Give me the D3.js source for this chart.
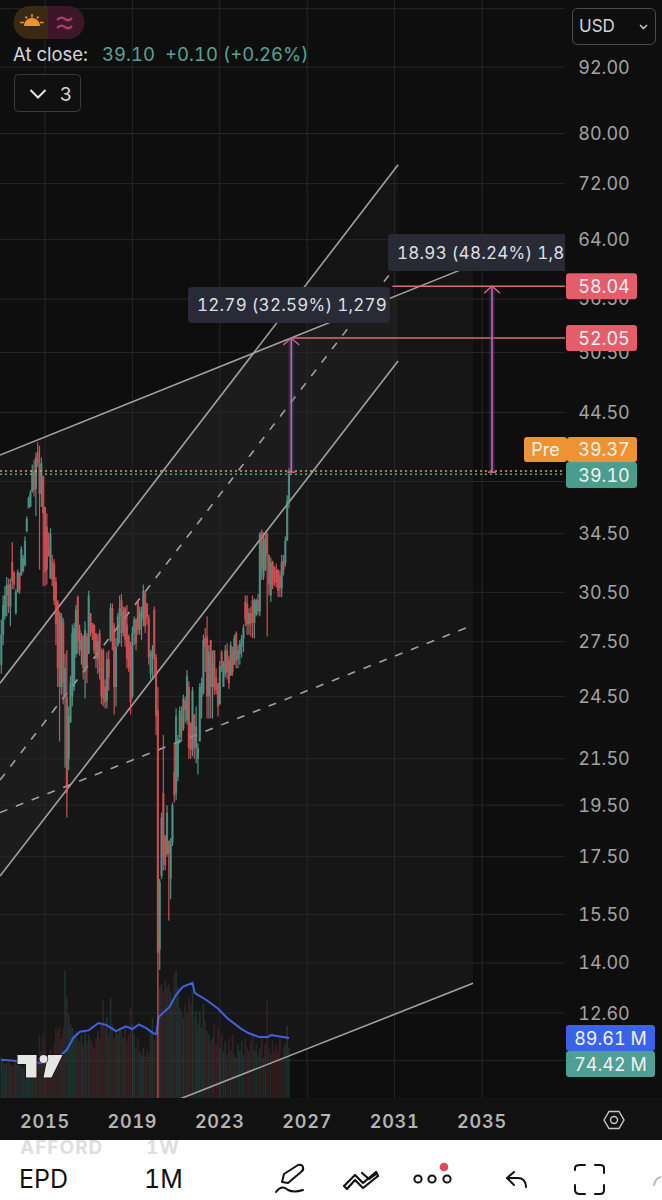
<!DOCTYPE html>
<html>
<head>
<meta charset="utf-8">
<script src="https://cdn.jsdelivr.net/npm/d3@7"></script>
<style>
html,body{margin:0;padding:0;background:#fff}
svg{display:block}
text{font-family:Inter,"Noto Sans",sans-serif;font-feature-settings:"tnum" 1;font-variant-numeric:tabular-nums}
</style>
</head>
<body>
<svg id="c" width="662" height="1200"></svg>
<script>
const opens=[26.2,27.9,29.0,30.3,31.0,29.6,32.5,31.8,29.2,30.5,31.8,31.6,31.9,32.3,34.7,36.4,36.5,37.7,39.4,37.9,
41.0,40.0,37.5,38.9,36.5,35.0,33.5,31.4,32.5,32.4,31.2,29.9,29.2,25.0,28.7,24.5,24.5,21.5,23.2,24.5,
25.0,26.8,30.2,28.2,27.0,27.8,25.8,27.8,26.8,29.2,28.6,28.5,28.0,26.5,28.0,26.0,27.0,25.0,24.3,26.5,
27.6,29.5,28.4,25.0,27.3,29.0,30.0,28.0,29.5,28.5,27.8,27.3,24.5,28.0,28.8,30.0,28.2,29.0,28.8,30.5,
29.8,28.9,25.7,26.7,29.4,26.6,23.8,14.4,16.8,20.0,18.3,17.6,18.1,16.7,18.0,20.9,20.0,20.7,22.5,23.5,
22.9,24.3,23.3,25.0,23.2,21.9,23.6,22.0,21.5,22.3,24.5,24.7,27.7,27.8,24.5,27.6,25.0,27.0,25.5,25.2,
24.1,26.9,25.0,25.7,27.0,26.5,25.6,27.0,26.2,28.0,26.5,26.8,27.2,27.7,29.9,29.8,28.5,29.2,30.0,28.6,
29.1,30.0,29.3,34.6,31.5,32.0,34.5,33.0,30.3,32.5,32.2,32.0,32.0,31.6,30.8,32.6,32.4,34.0,37.0];
const highs=[28.8,30.3,30.9,31.5,31.4,31.4,33.9,31.9,30.7,32.0,31.8,33.6,33.0,34.3,35.8,37.3,37.8,39.9,40.3,40.9,
41.8,41.5,40.5,39.0,36.5,36.0,34.6,34.9,33.0,32.7,31.5,30.0,29.3,29.2,28.9,26.8,27.0,24.0,25.6,28.5,
28.6,29.7,30.3,28.5,28.0,27.9,28.7,28.0,30.6,29.2,28.6,28.5,28.0,27.9,28.2,27.1,27.1,25.4,26.9,27.0,
29.8,29.8,28.6,27.7,29.2,30.3,30.4,29.6,29.6,29.7,27.9,27.5,28.4,29.0,28.9,30.0,29.6,29.6,31.0,30.6,
29.8,29.1,27.0,27.3,29.6,26.8,25.0,16.7,19.2,22.6,18.3,19.5,18.1,18.2,19.6,22.2,23.9,22.6,24.0,24.0,
24.6,24.5,25.9,25.3,23.2,25.0,23.6,24.0,22.2,25.2,25.5,27.9,28.3,29.0,27.3,27.6,27.0,27.0,26.0,25.2,
26.4,27.0,26.4,27.3,27.4,26.7,27.5,27.2,27.9,28.1,27.3,27.6,27.9,28.5,30.3,30.3,29.5,29.6,30.3,30.1,
30.1,30.4,34.6,34.8,34.6,34.5,34.6,33.0,32.8,32.6,32.2,32.4,32.0,31.9,33.0,33.0,34.3,37.4,39.6];
const lows=[25.7,27.3,28.8,29.0,29.2,28.4,30.7,30.7,29.1,30.5,30.4,31.6,31.8,32.2,34.6,36.4,36.5,37.6,37.3,35.8,
39.7,32.0,36.5,30.9,30.9,31.0,32.9,31.4,30.9,29.7,27.3,25.0,22.3,24.6,24.1,21.1,19.0,21.0,23.2,24.0,
24.8,26.6,26.8,26.7,26.2,25.4,24.4,25.2,26.8,27.8,27.6,26.8,26.0,25.7,25.4,24.1,24.0,23.9,23.9,24.8,
27.5,27.0,23.6,24.0,27.2,27.4,27.2,27.8,27.2,26.0,25.8,23.6,24.4,27.3,27.0,27.9,27.9,27.6,28.4,28.0,
28.5,26.2,25.4,25.5,25.6,22.6,10.27,13.8,16.7,17.0,17.0,17.5,15.3,16.0,17.9,19.6,19.7,20.5,22.2,22.3,
22.8,23.2,23.1,21.5,21.5,21.6,21.5,21.3,20.8,22.3,23.4,24.6,25.8,23.4,23.4,23.4,23.4,24.6,24.6,23.5,
24.1,25.8,25.0,25.5,25.4,24.9,25.6,25.6,26.2,26.0,26.0,26.2,26.6,26.9,28.4,27.9,27.9,27.8,27.7,27.7,
29.0,29.1,29.0,31.3,31.3,31.9,27.8,30.3,29.9,30.7,30.9,30.8,30.2,30.2,30.2,31.6,32.2,34.0,36.4];
const closes=[27.9,29.7,30.3,31.0,29.6,31.0,31.2,31.0,30.5,31.8,30.6,33.4,32.8,34.0,35.6,37.2,37.6,39.4,37.8,40.5,
40.0,37.5,40.0,36.0,31.8,32.0,32.9,34.5,31.3,30.0,28.5,26.0,25.0,29.0,25.2,26.0,20.0,23.5,25.2,28.0,
28.3,29.4,27.5,27.0,27.6,26.0,28.2,26.0,30.3,28.0,28.0,27.0,26.5,27.5,25.8,24.5,24.4,24.2,26.5,25.5,
29.5,27.5,25.0,27.2,29.0,29.5,28.0,29.3,27.6,26.5,26.0,24.2,28.0,28.8,27.4,28.2,29.2,29.4,30.6,28.4,
28.9,26.6,26.8,27.0,26.5,23.5,14.3,16.6,19.0,17.5,17.2,19.2,17.6,18.0,19.5,19.9,23.5,22.4,23.8,22.8,
24.4,23.8,25.6,22.0,21.9,24.8,22.0,23.0,22.0,25.0,25.2,27.6,27.2,24.5,26.9,25.0,26.3,25.0,24.8,24.0,
26.1,26.0,26.2,27.0,25.8,25.2,27.3,25.8,27.7,26.4,27.0,27.4,27.7,28.3,28.8,28.5,29.2,28.6,28.6,30.0,
30.0,29.3,34.5,32.0,34.0,34.2,33.0,31.0,32.5,31.0,31.2,31.1,30.6,30.8,32.5,32.0,34.0,37.0,39.1];
const volumes=[60,55,50,52,58,50,48,52,55,50,60,48,45,50,42,48,55,50,52,50,
60,95,70,95,70,55,60,72,65,80,105,100,106,90,105,190,150,125,110,105,
95,100,90,85,95,80,100,85,95,88,82,75,90,100,90,110,145,105,120,95,
150,110,90,100,95,105,100,90,105,85,95,135,110,95,75,90,70,65,75,62,
70,65,100,120,85,95,240,165,170,160,175,165,170,160,150,185,190,165,135,130,
120,140,125,150,140,160,120,130,110,130,105,140,115,100,95,85,90,110,80,105,
75,95,70,85,65,90,70,95,65,60,80,70,85,65,90,75,70,85,95,70,
80,65,75,90,60,80,148,75,65,85,70,80,70,90,60,75,80,108,74.42];
const maYears=[2013,2015,2015.2,2015.6,2016,2016.3,2016.6,2017,2017.45,2017.8,2018.25,2018.7,2019,2019.3,2019.65,2020,2020.1,2020.2,2020.7,2021,2021.3,2021.75,2021.85,2022.4,2022.9,2023.35,2023.95,2024.3,2024.8,2025.2,2025.35,2026.17];
const maValues=[57,52,54,60,72,90,99,101,112,109,100,107,103,110,104,96,96,121,136,154,166,172,157,146,134,119,104,97,91,91,94,89.61];
const priceTicks=[104,92,80,72,64,56.5,50.5,44.5,38.5,34.5,30.5,27.5,24.5,21.5,19.5,17.5,15.5,14,12.6,11.4];
const hiddenPriceLabels=[104,11.4];
const yearTicks=[2015,2019,2023,2027,2031,2035];

// trend drawings, as [year, price]
const channelA={upper:[[2012.94,25.2],[2031.16,74.9]],mid:[[2012.94,20.56],[2031.16,60.9]],lower:[[2012.94,16.8],[2031.16,49.6]]};
const channelB={upper:[[2012.94,40.7],[2034.59,60.7]],mid:[[2012.94,19.2],[2034.45,28.4]],lower:[[2012.94,9.06],[2034.59,13.41]]};
const measures=[
 {year:2026.27,from:39.1,to:52.05,lineFrom:2026.27,label:"12.79 (32.59%) 1,279"},
 {year:2035.46,from:39.1,to:58.04,lineFrom:2030.9,label:"18.93 (48.24%) 1,893"}];
const prePrice=39.37, lastPrice=39.10;

const GREEN="#55a594",RED="#e8585d",PANE_R=565,PANE_B=1098;
const x=d3.scaleLinear().domain([2015,2035]).range([45,482]);
const y=d3.scaleLog().domain([92,12.6]).range([67,1013]);
const v=d3.scaleLinear().domain([0,89.61]).range([PANE_B,1038]);
const cy=i=>2013+i/12;

const svg=d3.select("#c");
svg.append("rect").attr("width",662).attr("height",1140).attr("fill","#0e0e0f");
svg.append("defs").append("clipPath").attr("id","pane").append("rect").attr("width",PANE_R).attr("height",PANE_B);
const pane=svg.append("g").attr("clip-path","url(#pane)");

// channel fills
const poly=ch=>[...ch.upper,...ch.lower.slice().reverse()].map(p=>[x(p[0]),y(p[1])].join(",")).join(" ");
pane.append("polygon").attr("points",poly(channelB)).attr("fill","rgba(255,255,255,.035)");
pane.append("polygon").attr("points",poly(channelA)).attr("fill","rgba(255,255,255,.028)");

// grid
pane.selectAll(".gh").data(priceTicks).join("line").attr("x1",0).attr("x2",PANE_R)
 .attr("y1",d=>y(d)).attr("y2",d=>y(d)).attr("stroke","#272728").attr("stroke-width",1);
pane.selectAll(".gv").data(yearTicks).join("line").attr("y1",0).attr("y2",PANE_B)
 .attr("x1",d=>x(d)).attr("x2",d=>x(d)).attr("stroke","#272728").attr("stroke-width",1);

// volume
pane.selectAll(".vol").data(volumes).join("rect")
 .attr("x",(d,i)=>x(cy(i))-.8).attr("width",1.6)
 .attr("y",d=>v(d)).attr("height",d=>PANE_B-v(d))
 .attr("fill",(d,i)=>closes[i]>=opens[i]?"#2c5a52":"#6a2f33").attr("opacity",.42);

// volume MA
pane.append("path").attr("fill","none").attr("stroke","#3f63e0").attr("stroke-width",2)
 .attr("d",d3.line().x((d,i)=>x(maYears[i])).y(d=>v(d))(maValues));

// trend lines
function seg(pts,dash){pane.append("line")
 .attr("x1",x(pts[0][0])).attr("y1",y(pts[0][1])).attr("x2",x(pts[1][0])).attr("y2",y(pts[1][1]))
 .attr("stroke","#a2a2a2").attr("stroke-width",1.6).attr("stroke-dasharray",dash||null);}
[channelB,channelA].forEach(c=>{seg(c.upper);seg(c.lower);seg(c.mid,"8 9");});

// candles
const cand=pane.append("g").attr("opacity",.88);
cand.selectAll(".w").data(opens).join("rect")
 .attr("x",(d,i)=>x(cy(i))-.6).attr("width",1.2)
 .attr("y",(d,i)=>y(highs[i])).attr("height",(d,i)=>y(lows[i])-y(highs[i]))
 .attr("fill",(d,i)=>closes[i]>=d?GREEN:RED);
cand.selectAll(".b").data(opens).join("rect")
 .attr("x",(d,i)=>x(cy(i))-1.1).attr("width",2.2).attr("opacity",.85)
 .attr("y",(d,i)=>y(Math.max(d,closes[i]))).attr("height",(d,i)=>Math.max(1,Math.abs(y(d)-y(closes[i]))))
 .attr("fill",(d,i)=>closes[i]>=d?GREEN:RED);

// dotted price lines
[[prePrice,"#e8a04a"],[lastPrice,"#55a594"]].forEach(([p,col])=>{
 pane.append("line").attr("x1",0).attr("x2",PANE_R).attr("y1",y(p)).attr("y2",y(p))
  .attr("stroke",col).attr("stroke-width",1.5).attr("stroke-dasharray","2 3");});

// measures
measures.forEach(m=>{
 const X=x(m.year),Y0=y(m.from)-2,Y1=y(m.to);
 pane.append("rect").attr("x",X-3).attr("width",6).attr("y",Y1).attr("height",Y0-Y1).attr("fill","rgba(72,72,170,.3)");
 pane.append("line").attr("x1",x(m.lineFrom)).attr("x2",PANE_R).attr("y1",Y1).attr("y2",Y1).attr("stroke","#de6a78").attr("stroke-width",1.6);
 pane.append("line").attr("x1",X).attr("x2",X).attr("y1",Y0).attr("y2",Y1).attr("stroke","#d2649a").attr("stroke-width",1.6);
 pane.append("path").attr("fill","none").attr("stroke","#d2649a").attr("stroke-width",1.3)
  .attr("d",`M${X-8},${Y1+7}L${X},${Y1}L${X+8},${Y1+7}`);
 pane.append("line").attr("x1",X-4).attr("x2",X+4).attr("y1",Y0).attr("y2",Y0).attr("stroke","#de6a78").attr("stroke-width",1.5);
});

// logo
const logo=pane.append("g").attr("fill","#e6e6e6").attr("stroke","#111").attr("stroke-width",1.5).attr("paint-order","stroke");
logo.append("path").attr("d","M17.5,1055H36.5V1077.5H26V1064H17.5Z");
logo.append("path").attr("d","M48,1055H62.5L51.5,1077.5H43.5Z");
logo.append("circle").attr("cx",43.5).attr("cy",1059).attr("r",4);

// measure tooltips
function tip(m,rx,ry,rw,rh){
 pane.append("rect").attr("x",rx).attr("y",ry).attr("width",rw).attr("height",rh).attr("rx",4).attr("fill","#282b35");
 pane.append("text").attr("x",rx+9).attr("y",ry+rh/2+6).attr("font-size",17).attr("letter-spacing",.25).attr("fill","#dfdfe2").text(m.label);
}
tip(measures[0],188,287,202,36);
tip(measures[1],388,234,200,37);

// price axis labels
svg.selectAll(".pl").data(priceTicks.filter(t=>!hiddenPriceLabels.includes(t))).join("text")
 .attr("x",604).attr("y",d=>y(d)+6.5).attr("text-anchor","middle").attr("font-size",18).attr("fill","#a3a3a3")
 .text(d=>d.toFixed(2));
// tags
function tag(px,py,w,h,col,t,r){
 svg.append("rect").attr("x",px).attr("y",py).attr("width",w).attr("height",h).attr("rx",r==null?3:r).attr("fill",col);
 svg.append("text").attr("x",t.length>5?px+w/2:(t.length===3?px+w/2:604)).attr("y",py+h/2+6.5).attr("text-anchor","middle").attr("font-size",18).attr("fill","#f2f2f2").text(t);
}
tag(566,y(58.04)-13,71,26,"#e35d6b","58.04");
tag(566,y(52.05)-13,71,26,"#e35d6b","52.05");
tag(524,437,43,25,"#ee9333","Pre");
tag(567,437,70,25,"#ee9333",prePrice.toFixed(2));
tag(566,462,71,26,"#4a9c8c",lastPrice.toFixed(2));
tag(566,1025,89,26,"#3b63ea","89.61 M");
tag(566,1051,89,26,"#4f9f94","74.42 M");

// time axis
svg.append("rect").attr("y",PANE_B).attr("width",662).attr("height",42).attr("fill","#111112");
svg.selectAll(".yl").data(yearTicks).join("text").attr("x",d=>x(d)).attr("y",1127.5)
 .attr("text-anchor","middle").attr("font-size",18).attr("font-weight",600).attr("letter-spacing",.8).attr("fill","#b4b4b4").text(d=>d);
svg.append("path").attr("fill","none").attr("stroke","#c8c8c8").attr("stroke-width",1.4).attr("d","M604,1120L609,1111.5H619L624,1120L619,1128.5H609Z");
svg.append("circle").attr("cx",614).attr("cy",1120).attr("r",3.5).attr("fill","none").attr("stroke","#c8c8c8").attr("stroke-width",1.4);

// header
svg.append("path").attr("d","M30,6H48V39H30A16.5,16.5 0 0 1 30,6Z").attr("fill","#3a2a14");
svg.append("path").attr("d","M48,6H68A16.5,16.5 0 0 1 68,39H48Z").attr("fill","#3d1628");
svg.append("path").attr("d","M24,26A8,8 0 0 1 40,26Z").attr("fill","#ee9333");
svg.append("path").attr("fill","none").attr("stroke","#ee9333").attr("stroke-width",1.6)
 .attr("d","M20,22.5H24M40,22.5H43.5M32,14V17.5M25.5,16.5L27,18.5M38.5,16.5L37,18.5");
svg.append("path").attr("fill","none").attr("stroke","#b23c6e").attr("stroke-width",2.2)
 .attr("d","M57,20Q61,16 65,19T72,18M57,28Q61,24 65,27T72,26");
svg.append("text").attr("x",13).attr("y",61).attr("font-size",18.5).attr("fill","#d6d6d6").text("At close:");
svg.append("text").attr("x",102).attr("y",61).attr("font-size",18.5).attr("fill","#55a594").text("39.10");
svg.append("text").attr("x",165).attr("y",61).attr("font-size",18.5).attr("fill","#55a594").text("+0.10 (+0.26%)");
svg.append("rect").attr("x",14.5).attr("y",74.5).attr("width",66).attr("height",37).attr("rx",4).attr("fill","#101011").attr("stroke","#3b3b3c");
svg.append("path").attr("fill","none").attr("stroke","#e4e4e4").attr("stroke-width",2).attr("d","M30.5,90L38,97.5L45.5,90");
svg.append("text").attr("x",66).attr("y",100.5).attr("text-anchor","middle").attr("font-size",19).attr("fill","#d6d6d6").text("3");
svg.append("rect").attr("x",572.5).attr("y",8.5).attr("width",83).attr("height",36).attr("rx",5).attr("fill","#0e0e0f").attr("stroke","#4d4d4e");
svg.append("text").attr("x",579).attr("y",32).attr("font-size",17).attr("fill","#d6d6d6").text("USD");
svg.append("path").attr("fill","none").attr("stroke","#d6d6d6").attr("stroke-width",1.4).attr("d","M640,25L643.5,28.5L647,25");

// bottom toolbar
svg.append("rect").attr("y",1140).attr("width",662).attr("height",60).attr("fill","#fff");
svg.append("defs").append("clipPath").attr("id","gc").append("rect").attr("y",1140).attr("width",662).attr("height",60);
const gg=svg.append("g").attr("clip-path","url(#gc)").attr("fill","#dedede").attr("font-weight",700);
gg.append("text").attr("x",20).attr("y",1154).attr("font-size",19).attr("letter-spacing",1).text("AFFORD");
gg.append("text").attr("x",146).attr("y",1154).attr("font-size",19).attr("letter-spacing",1).text("1W");
svg.append("text").attr("x",19).attr("y",1188).attr("font-size",25).attr("fill","#111").text("EPD");
svg.append("text").attr("x",144).attr("y",1188).attr("font-size",25).attr("fill","#111").text("1M");
const ic=svg.append("g").attr("fill","none").attr("stroke","#111").attr("stroke-width",2).attr("stroke-linejoin","round").attr("stroke-linecap","round");
ic.append("path").attr("d","M282,1182L284,1174L298,1165Q302,1164 303,1167Q304,1170 301,1172L288,1183Z");
ic.append("path").attr("d","M276,1192Q282,1184 288,1190Q294,1193 303,1190");
ic.append("path").attr("stroke-width",2.2).attr("d","M344,1186L355,1175L363,1183L376,1172L378,1176L363,1188L355,1180L347,1189ZM362,1173L369,1179L377,1173");
[418,432,447].forEach(cx=>ic.append("circle").attr("cx",cx).attr("cy",1179).attr("r",3.6));
svg.append("circle").attr("cx",444).attr("cy",1167).attr("r",4.3).attr("fill","#e2484f");
ic.append("path").attr("d","M507,1178L514,1172M507,1178L514,1185M507,1178H518Q525,1178 526,1186V1187");
ic.append("path").attr("d","M575,1170V1168Q575,1165 580,1165H585M595,1165H600Q604,1165 604,1168V1173M604,1185V1190Q604,1194 600,1194H595M585,1194H580Q575,1194 575,1190V1185");
svg.append("path").attr("d","M654,1186Q655,1178 661,1177").attr("fill","none").attr("stroke","#bbb").attr("stroke-width",2);
</script>
</body>
</html>
